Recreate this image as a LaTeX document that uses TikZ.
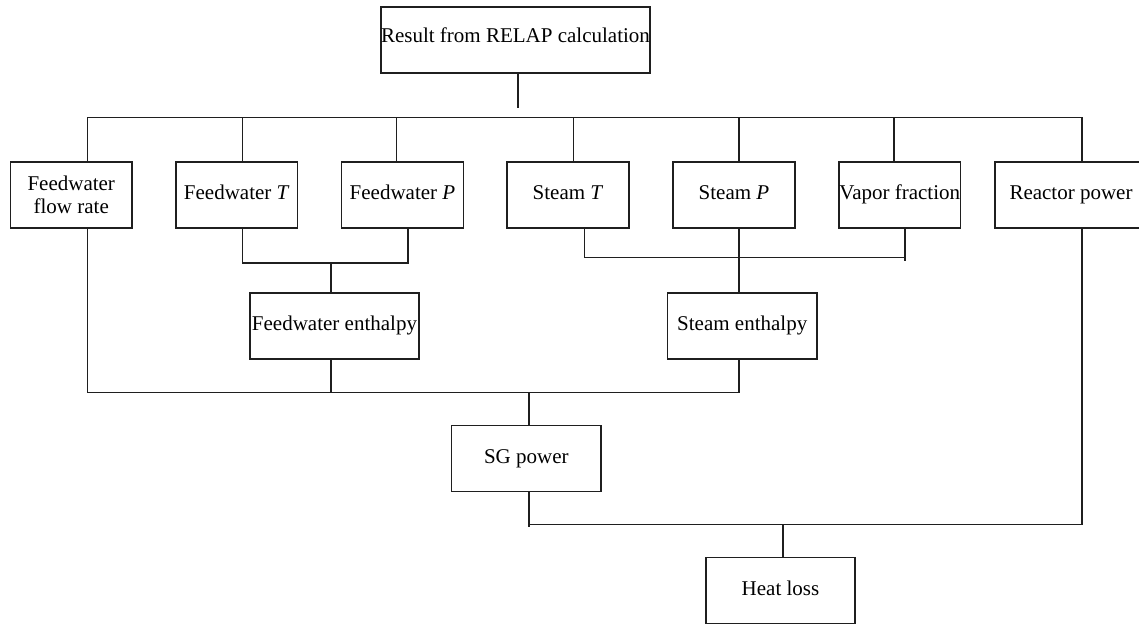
\documentclass[tikz,border=0pt]{standalone}
\usepackage{fontspec}
\setmainfont{Liberation Serif}
\usetikzlibrary{calc}
\tikzset{
  box/.style={draw=black!88, line width=1.2pt, minimum height=66pt, inner sep=0pt,
    font=\fontsize{21}{23}\selectfont, align=center},
  onel/.style={box, text height=14pt, text depth=4.5pt},
  conn/.style={draw=black!88, line width=1.2pt}
}
\begin{document}
\begin{tikzpicture}[x=1pt,y=-1pt]
\clip (0,0) rectangle (1139,624);
\fill[white] (0,0) rectangle (1139,624);
% boxes
\node[onel, minimum width=269pt, text depth=9pt] (top) at (515.5,40) {Result from RELAP calculation};
\node[box, minimum width=121.5pt] (flow) at (71.25,195) {Feedwater\\flow rate};
\node[onel, minimum width=121.5pt] (fwT) at (236.75,195) {Feedwater \textit{T}};
\node[onel, minimum width=121.5pt] (fwP) at (402.5,195) {Feedwater \textit{P}};
\node[onel, minimum width=122pt] (stT) at (568,195) {Steam \textit{T}};
\node[onel, minimum width=122pt] (stP) at (734,195) {Steam \textit{P}};
\node[onel, minimum width=121.5pt] (vap) at (899.75,195) {Vapor fraction};
\node[onel, minimum width=152pt] (rea) at (1071,195) {Reactor power};
\node[onel, minimum width=169pt] (fwH) at (334.5,326) {Feedwater enthalpy};
\node[onel, minimum width=149.5pt] (stH) at (742.25,326) {Steam enthalpy};
\node[onel, minimum width=149.4pt] (sg) at (526.3,458.3) {SG power};
\node[onel, minimum width=149pt] (heat) at (780.5,590.6) {Heat loss};
% junction coordinates
\coordinate (topend) at (518,108);
\coordinate (busL) at (87.6,117.3);
\coordinate (b2) at (242.5,117.3);
\coordinate (b3) at (396.7,117.3);
\coordinate (b4) at (573.6,117.3);
\coordinate (b5) at (739,117.3);
\coordinate (b6) at (894,117.3);
\coordinate (busR) at (1082,117.3);
\coordinate (fjL) at (242.5,263);
\coordinate (fj) at (331,263);
\coordinate (fjR) at (408,263);
\coordinate (sjL) at (584.5,257.3);
\coordinate (sj) at (739,257.3);
\coordinate (sjR) at (905,257.3);
\coordinate (sjRe) at (905,260.5);
\coordinate (lbF) at (331,392.7);
\coordinate (lbS) at (529,392.7);
\coordinate (lbR) at (739,392.7);
\coordinate (bbL) at (529,524.7);
\coordinate (bbLe) at (529,526.5);
\coordinate (bbH) at (783,524.7);
\coordinate (bbR) at (1082,524.7);
% connectors
\draw[conn] (top.south -| topend) -- (topend);
\draw[conn] (flow.north -| busL) -- (busL) -- (busR) -- (rea.north -| busR);
\draw[conn] (b2) -- (fwT.north -| b2);
\draw[conn] (b3) -- (fwP.north -| b3);
\draw[conn] (b4) -- (stT.north -| b4);
\draw[conn] (b5) -- (stP.north -| b5);
\draw[conn] (b6) -- (vap.north -| b6);
\draw[conn] (fwT.south -| fjL) -- (fjL) -- (fjR) -- (fwP.south -| fjR);
\draw[conn] (fj) -- (fwH.north -| fj);
\draw[conn] (stT.south -| sjL) -- (sjL) -- (sjR);
\draw[conn] (vap.south -| sjR) -- (sjRe);
\draw[conn] (stP.south -| sj) -- (stH.north -| sj);
\draw[conn] (flow.south -| busL) |- (lbR);
\draw[conn] (stH.south -| lbR) -- (lbR);
\draw[conn] (fwH.south -| lbF) -- (lbF);
\draw[conn] (lbS) -- (sg.north -| lbS);
\draw[conn] (sg.south -| bbL) -- (bbLe);
\draw[conn] (bbL) -- (bbR) -- (rea.south -| bbR);
\draw[conn] (bbH) -- (heat.north -| bbH);
\end{tikzpicture}
\end{document}
